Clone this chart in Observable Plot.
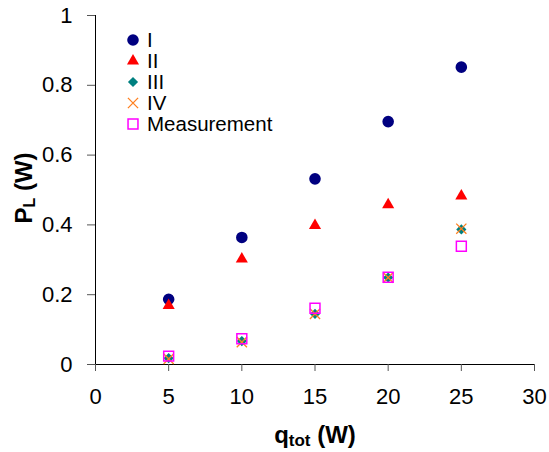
<!DOCTYPE html>
<html>
<head>
<meta charset="utf-8">
<script src="https://cdn.jsdelivr.net/npm/d3@7"></script>
<script src="https://cdn.jsdelivr.net/npm/@observablehq/plot@0.6"></script>
<style>
  html, body { margin: 0; padding: 0; background: #fff; }
  #wrap { position: relative; width: 549px; height: 452px; font-family: "Liberation Sans", Arial, sans-serif; }
  #legend { position: absolute; left: 124px; top: 29px; }
  .row { display: flex; align-items: center; height: 21.2px; font-size: 20.5px; color: #000; }
  .row svg { width: 18px; height: 18px; margin-right: 5px; }
</style>
</head>
<body>
<div id="wrap"></div>
<script>
const qTot = [5, 10, 15, 20, 25];
const seriesI = [0.187, 0.364, 0.532, 0.696, 0.852];
const seriesII = [0.169, 0.302, 0.398, 0.458, 0.483];
const seriesIII = [0.018, 0.067, 0.145, 0.249, 0.387];
const seriesIV = [0.016, 0.064, 0.145, 0.249, 0.389];
const measurement = [0.024, 0.074, 0.161, 0.250, 0.339];
const xTicks = [0, 5, 10, 15, 20, 25, 30];
const yTicks = [0, 0.2, 0.4, 0.6, 0.8, 1];

const series = [
  {name: "I", values: seriesI, symbol: "circle", r: 5.8, fill: "#000080", stroke: "none"},
  {name: "II", values: seriesII, symbol: "triangle", r: 4.5, fill: "#ff0000", stroke: "none"},
  {name: "III", values: seriesIII, symbol: "diamond2", r: 4.6, fill: "#008080", stroke: "none"},
  {name: "IV", values: seriesIV, symbol: "times", r: 4.7, fill: "none", stroke: "#ff7f1e"},
  {name: "Measurement", values: measurement, symbol: "square", r: 5.6, fill: "none", stroke: "#ff00ff"}
];

const marks = [
  Plot.ruleY([0], {stroke: "#000", strokeWidth: 1}),
  Plot.ruleX([0], {stroke: "#000", strokeWidth: 1}),
  Plot.axisX({ticks: xTicks, tickSize: 7, tickPadding: 17, fontSize: 22, label: null, stroke: "#555"}),
  Plot.axisY({ticks: yTicks, tickSize: 8, tickPadding: 15, fontSize: 22, label: null, tickFormat: d3.format("~g"), stroke: "#555"})
];
for (const s of series) {
  const data = qTot.map((q, i) => ({q, v: s.values[i]}));
  marks.push(Plot.dot(data, {
    x: "q", y: "v", symbol: () => s.symbol, r: s.r,
    fill: s.fill, stroke: s.stroke,
    strokeWidth: s.symbol === "times" ? 1.3 : 1.5
  }));
}

const chart = Plot.plot({
  width: 549, height: 452,
  marginLeft: 95, marginRight: 15, marginTop: 15, marginBottom: 88,
  style: {fontFamily: "'Liberation Sans', Arial, sans-serif", background: "#fff", color: "#000"},
  x: {domain: [0, 30]},
  y: {domain: [0, 1]},
  symbol: {type: "identity"},
  marks
});

const svg = d3.select(chart);
// axis titles
const xt = svg.append("text")
  .attr("x", 315).attr("y", 443)
  .attr("text-anchor", "middle")
  .attr("font-size", 24).attr("font-weight", "bold").attr("fill", "#000");
xt.append("tspan").text("q");
xt.append("tspan").attr("font-size", 17).attr("dy", 3).text("tot");
xt.append("tspan").attr("dy", -3).text(" (W)");

const yt = svg.append("text")
  .attr("transform", "translate(32,188) rotate(-90)")
  .attr("text-anchor", "middle")
  .attr("font-size", 24).attr("font-weight", "bold").attr("fill", "#000");
yt.append("tspan").text("P");
yt.append("tspan").attr("font-size", 16).attr("dy", 3).text("L");
yt.append("tspan").attr("dy", -3).text(" (W)");

const wrap = document.getElementById("wrap");
wrap.appendChild(chart);

// legend
const legend = document.createElement("div");
legend.id = "legend";
for (const s of series) {
  const row = document.createElement("div");
  row.className = "row";
  const size = Math.PI * s.r * s.r;
  const sym = {circle: d3.symbolCircle, triangle: d3.symbolTriangle, diamond2: d3.symbolDiamond2, times: d3.symbolTimes, square: d3.symbolSquare}[s.symbol];
  const path = d3.symbol(sym, size)();
  row.innerHTML = `<svg viewBox="-9 -9 18 18"><path d="${path}" fill="${s.fill}" stroke="${s.stroke}" stroke-width="${s.symbol === "times" ? 1.3 : 1.5}"></path></svg><span>${s.name}</span>`;
  legend.appendChild(row);
}
wrap.appendChild(legend);
</script>
</body>
</html>
